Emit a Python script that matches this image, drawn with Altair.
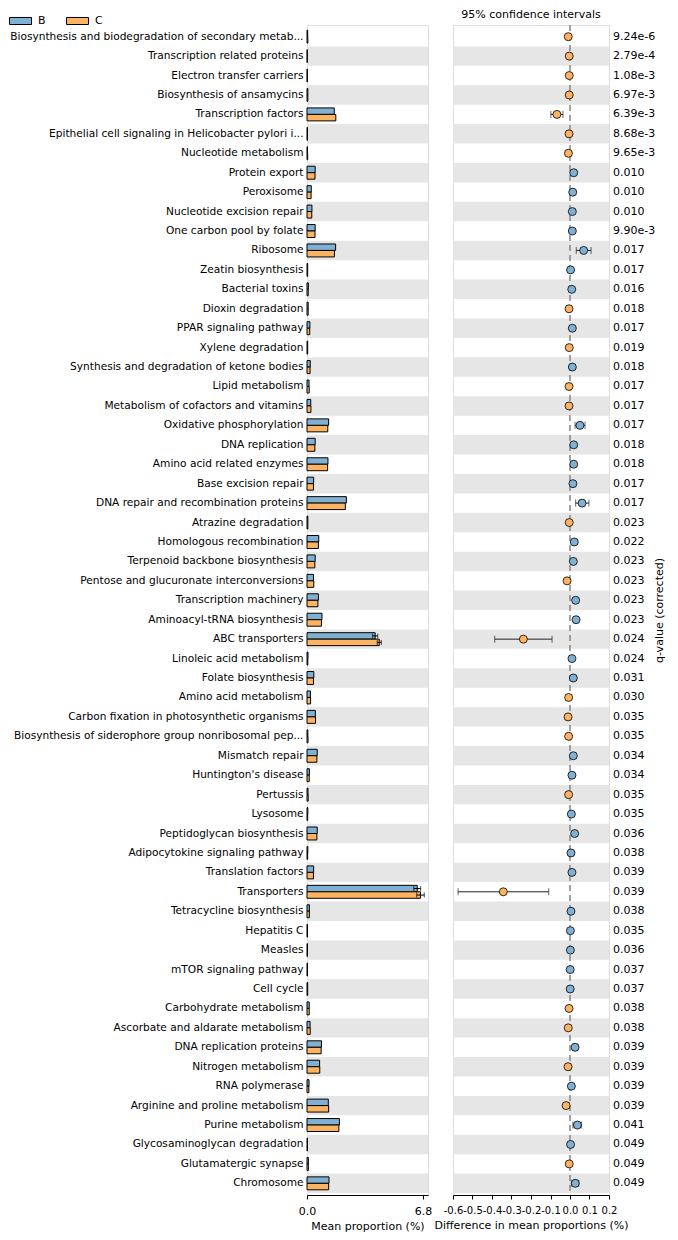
import altair as alt
import pandas as pd

names = [
    "Biosynthesis and biodegradation of secondary metab...",
    "Transcription related proteins",
    "Electron transfer carriers",
    "Biosynthesis of ansamycins",
    "Transcription factors",
    "Epithelial cell signaling in Helicobacter pylori i...",
    "Nucleotide metabolism",
    "Protein export",
    "Peroxisome",
    "Nucleotide excision repair",
    "One carbon pool by folate",
    "Ribosome",
    "Zeatin biosynthesis",
    "Bacterial toxins",
    "Dioxin degradation",
    "PPAR signaling pathway",
    "Xylene degradation",
    "Synthesis and degradation of ketone bodies",
    "Lipid metabolism",
    "Metabolism of cofactors and vitamins",
    "Oxidative phosphorylation",
    "DNA replication",
    "Amino acid related enzymes",
    "Base excision repair",
    "DNA repair and recombination proteins",
    "Atrazine degradation",
    "Homologous recombination",
    "Terpenoid backbone biosynthesis",
    "Pentose and glucuronate interconversions",
    "Transcription machinery",
    "Aminoacyl-tRNA biosynthesis",
    "ABC transporters",
    "Linoleic acid metabolism",
    "Folate biosynthesis",
    "Amino acid metabolism",
    "Carbon fixation in photosynthetic organisms",
    "Biosynthesis of siderophore group nonribosomal pep...",
    "Mismatch repair",
    "Huntington's disease",
    "Pertussis",
    "Lysosome",
    "Peptidoglycan biosynthesis",
    "Adipocytokine signaling pathway",
    "Translation factors",
    "Transporters",
    "Tetracycline biosynthesis",
    "Hepatitis C",
    "Measles",
    "mTOR signaling pathway",
    "Cell cycle",
    "Carbohydrate metabolism",
    "Ascorbate and aldarate metabolism",
    "DNA replication proteins",
    "Nitrogen metabolism",
    "RNA polymerase",
    "Arginine and proline metabolism",
    "Purine metabolism",
    "Glycosaminoglycan degradation",
    "Glutamatergic synapse",
    "Chromosome",
]

mean_b = [0.04, 0.02, 0.02, 0.05, 1.60, 0.03, 0.03, 0.48, 0.25, 0.29,
          0.48, 1.68, 0.04, 0.08, 0.07, 0.17, 0.04, 0.19, 0.12, 0.22,
          1.27, 0.48, 1.23, 0.39, 2.31, 0.05, 0.69, 0.48, 0.38, 0.67,
          0.88, 4.00, 0.06, 0.40, 0.20, 0.49, 0.05, 0.60, 0.14, 0.06,
          0.05, 0.60, 0.05, 0.39, 6.47, 0.14, 0.03, 0.03, 0.03, 0.04,
          0.13, 0.18, 0.85, 0.74, 0.12, 1.25, 1.90, 0.03, 0.08, 1.29]

mean_c = [0.05, 0.02, 0.02, 0.05, 1.69, 0.03, 0.04, 0.47, 0.24, 0.28,
          0.47, 1.61, 0.04, 0.07, 0.07, 0.16, 0.04, 0.18, 0.13, 0.23,
          1.22, 0.46, 1.21, 0.38, 2.25, 0.05, 0.67, 0.46, 0.40, 0.64,
          0.85, 4.24, 0.05, 0.38, 0.21, 0.50, 0.06, 0.58, 0.13, 0.07,
          0.04, 0.58, 0.04, 0.38, 6.66, 0.14, 0.03, 0.03, 0.03, 0.04,
          0.13, 0.19, 0.83, 0.75, 0.11, 1.27, 1.87, 0.03, 0.08, 1.27]

diff = [-0.009, -0.004, -0.004, -0.004, -0.067, -0.005, -0.008, 0.019, 0.014, 0.012,
        0.012, 0.070, 0.003, 0.009, -0.005, 0.012, -0.004, 0.012, -0.005, -0.005,
        0.051, 0.019, 0.019, 0.015, 0.062, -0.004, 0.022, 0.017, -0.015, 0.029,
        0.031, -0.239, 0.010, 0.017, -0.007, -0.010, -0.007, 0.017, 0.010, -0.007,
        0.007, 0.024, 0.005, 0.010, -0.342, 0.005, 0.002, 0.002, 0.001, 0.001,
        -0.005, -0.009, 0.026, -0.010, 0.007, -0.020, 0.038, 0.003, -0.004, 0.027]

ci_low = [-0.015, -0.009, -0.009, -0.010, -0.098, -0.010, -0.013, 0.012, 0.008, 0.006,
          0.006, 0.032, -0.002, 0.004, -0.010, 0.006, -0.009, 0.006, -0.010, -0.010,
          0.026, 0.012, 0.011, 0.009, 0.029, -0.009, 0.013, 0.010, -0.023, 0.019,
          0.021, -0.386, 0.005, 0.010, -0.013, -0.017, -0.012, 0.010, 0.005, -0.012,
          0.002, 0.013, 0.001, 0.004, -0.574, 0.001, -0.002, -0.002, -0.003, -0.003,
          -0.010, -0.015, 0.013, -0.017, 0.002, -0.034, 0.015, -0.001, -0.008, 0.007]

ci_high = [-0.003, 0.001, 0.001, 0.002, -0.036, 0.000, -0.003, 0.026, 0.020, 0.018,
           0.018, 0.108, 0.008, 0.014, 0.000, 0.018, 0.001, 0.018, 0.000, 0.000,
           0.077, 0.026, 0.027, 0.021, 0.097, 0.001, 0.031, 0.024, -0.007, 0.039,
           0.041, -0.092, 0.015, 0.024, -0.001, -0.003, -0.002, 0.024, 0.015, -0.002,
           0.012, 0.035, 0.009, 0.016, -0.109, 0.009, 0.006, 0.006, 0.005, 0.005,
           0.000, -0.003, 0.039, -0.003, 0.012, -0.006, 0.058, 0.007, 0.000, 0.045]

qvals = ["9.24e-6", "2.79e-4", "1.08e-3", "6.97e-3", "6.39e-3", "8.68e-3", "9.65e-3", "0.010", "0.010", "0.010",
         "9.90e-3", "0.017", "0.017", "0.016", "0.018", "0.017", "0.019", "0.018", "0.017", "0.017",
         "0.017", "0.018", "0.018", "0.017", "0.017", "0.023", "0.022", "0.023", "0.023", "0.023",
         "0.023", "0.024", "0.024", "0.031", "0.030", "0.035", "0.035", "0.034", "0.034", "0.035",
         "0.035", "0.036", "0.038", "0.039", "0.039", "0.038", "0.035", "0.036", "0.037", "0.037",
         "0.038", "0.038", "0.039", "0.039", "0.039", "0.039", "0.041", "0.049", "0.049", "0.049"]

err_names = ["ABC transporters", "ABC transporters", "Transporters", "Transporters"]
err_groups = ["B", "C", "B", "C"]
err_sizes = [0.15, 0.12, 0.20, 0.22]

groups = ["B", "C"]
group_colors = ["#80b1d3", "#fdb462"]
left_ticks = [0.0, 6.8]
right_ticks = [-0.6, -0.5, -0.4, -0.3, -0.2, -0.1, 0.0, 0.1, 0.2]
zero_line = [0.0]

SHADE = "#e6e6e6"
FONT = "DejaVu Sans"
H = 1170
WL = 121
WR = 156

# ---------- tables ----------
rows = pd.DataFrame({"name": names, "B": mean_b, "C": mean_c, "diff": diff,
                     "lo": ci_low, "hi": ci_high, "q": qvals})
rows["idx"] = list(range(len(names)))
rows["grp"] = ["B" if d > 0 else "C" for d in diff]

bars = rows.melt(id_vars=["name"], value_vars=groups, var_name="group", value_name="mean")

errs = pd.DataFrame({"name": err_names, "group": err_groups, "err": err_sizes})
errs = errs.merge(bars, on=["name", "group"])
errs["lo"] = errs["mean"] - errs["err"]
errs["hi"] = errs["mean"] + errs["err"]

zero_df = pd.DataFrame({"z": zero_line})

color_scale = alt.Scale(domain=groups, range=group_colors)


def yscale():
    return alt.Scale(domain=names, paddingInner=0, paddingOuter=0.1)


axis_style = dict(labelFont=FONT, titleFont=FONT, labelFontSize=11, titleFontSize=11,
                  titleFontWeight="normal", labelColor="black", titleColor="black",
                  domainColor="black", tickColor="black", grid=False,
                  tickSize=4, labelPadding=6, titlePadding=4, labelOverlap=False,
                  labelFlush=False, labelBound=False)

# ---------- left panel ----------
y_left = alt.Y("name:N", scale=yscale(),
               axis=alt.Axis(title=None, ticks=False, domain=False, labelPadding=4,
                             labelFontSize=10.6, labelFont=FONT, labelColor="black",
                             labelLimit=400))
x_left_scale = alt.Scale(domain=[0, 7.1], nice=False, zero=True)
x_left_axis = alt.Axis(values=left_ticks, format=".1f", title="Mean proportion (%)",
                       **axis_style)


def xl(field):
    return alt.X(field, scale=x_left_scale, axis=x_left_axis)


yoff = alt.YOffset("group:N", scale=alt.Scale(domain=groups, paddingInner=0, paddingOuter=0.5))

shade_left = alt.Chart(rows).transform_filter("datum.idx % 2 == 1").mark_rect(
    color=SHADE).encode(
    y=y_left, x=alt.value(0), x2=alt.value(WL))

bar_layer = alt.Chart(bars).mark_bar(stroke="black", strokeWidth=1).encode(
    y=y_left,
    yOffset=yoff,
    x=xl("mean:Q"),
    color=alt.Color("group:N", scale=color_scale,
                    legend=alt.Legend(orient="none", legendX=-298, legendY=-16,
                                      direction="horizontal", title=None,
                                      symbolType="M-1,-0.32L1,-0.32L1,0.32L-1,0.32Z",
                                      symbolSize=484, symbolStrokeColor="black",
                                      symbolStrokeWidth=1, symbolOpacity=1,
                                      labelFont=FONT, labelFontSize=11, labelColor="black",
                                      columnPadding=18, labelOffset=6)),
)

err_rule = alt.Chart(errs).mark_rule(color="black", strokeWidth=1).encode(
    y=y_left, yOffset=yoff, x=xl("lo:Q"), x2="hi:Q")
err_cap_lo = alt.Chart(errs).mark_tick(color="black", thickness=1, size=5).encode(
    y=y_left, yOffset=yoff, x=xl("lo:Q"))
err_cap_hi = alt.Chart(errs).mark_tick(color="black", thickness=1, size=5).encode(
    y=y_left, yOffset=yoff, x=xl("hi:Q"))

left = alt.layer(shade_left, bar_layer, err_rule, err_cap_lo, err_cap_hi).properties(
    width=WL, height=H)

# ---------- right panel ----------
y_right = alt.Y("name:N", scale=yscale(),
                axis=alt.Axis(orient="right", labels=False, ticks=False, domain=False,
                              title="q-value (corrected)", titleAngle=270,
                              titleBaseline="middle", titlePadding=50,
                              titleFont=FONT, titleFontSize=11, titleFontWeight="normal",
                              titleColor="black"))
x_right_scale = alt.Scale(domain=[-0.6, 0.2], nice=False, zero=False)
right_style = dict(axis_style)
right_style["labelFontSize"] = 10
x_right_axis = alt.Axis(values=right_ticks,
                        labelExpr="(datum.value < 0 ? '-' : '') + format(abs(datum.value), '.1f')",
                        title="Difference in mean proportions (%)", **right_style)


def xr(field):
    return alt.X(field, scale=x_right_scale, axis=x_right_axis)


shade_right = alt.Chart(rows).transform_filter("datum.idx % 2 == 1").mark_rect(
    color=SHADE).encode(y=y_right, x=alt.value(0), x2=alt.value(WR))

zero_rule = alt.Chart(zero_df).mark_rule(color="#8c8c8c", strokeWidth=1.6,
                                         strokeDash=[6, 4]).encode(x=xr("z:Q"))

ci_rule = alt.Chart(rows).mark_rule(color="#222222", strokeWidth=1).encode(
    y=y_right, x=xr("lo:Q"), x2="hi:Q")
ci_cap_lo = alt.Chart(rows).mark_tick(color="#222222", thickness=1, size=7).encode(
    y=y_right, x=xr("lo:Q"))
ci_cap_hi = alt.Chart(rows).mark_tick(color="#222222", thickness=1, size=7).encode(
    y=y_right, x=xr("hi:Q"))

points = alt.Chart(rows).mark_circle(size=64, stroke="black", strokeWidth=0.8,
                                     opacity=1).encode(
    y=y_right, x=xr("diff:Q"),
    color=alt.Color("grp:N", scale=color_scale, legend=None))

qtext = alt.Chart(rows).mark_text(align="left", baseline="middle", font=FONT,
                                  fontSize=11, color="black").encode(
    y=y_right, x=alt.value(WR + 4), text="q:N")

right = alt.layer(shade_right, zero_rule, ci_rule, ci_cap_lo, ci_cap_hi, points, qtext).properties(
    width=WR, height=H,
    title=alt.TitleParams("95% confidence intervals", font=FONT, fontSize=11,
                          fontWeight="normal", color="black", anchor="middle",
                          frame="group", offset=4))

chart = alt.hconcat(left, right, spacing=25, bounds="flush").resolve_scale(
    y="independent", color="independent").resolve_legend(color="independent").properties(
    padding={"left": 0, "top": 0, "right": 0, "bottom": 0}
).configure_view(stroke=None).configure(font=FONT)

chart.save("out.html", embed_options={"renderer": "svg", "actions": False})
